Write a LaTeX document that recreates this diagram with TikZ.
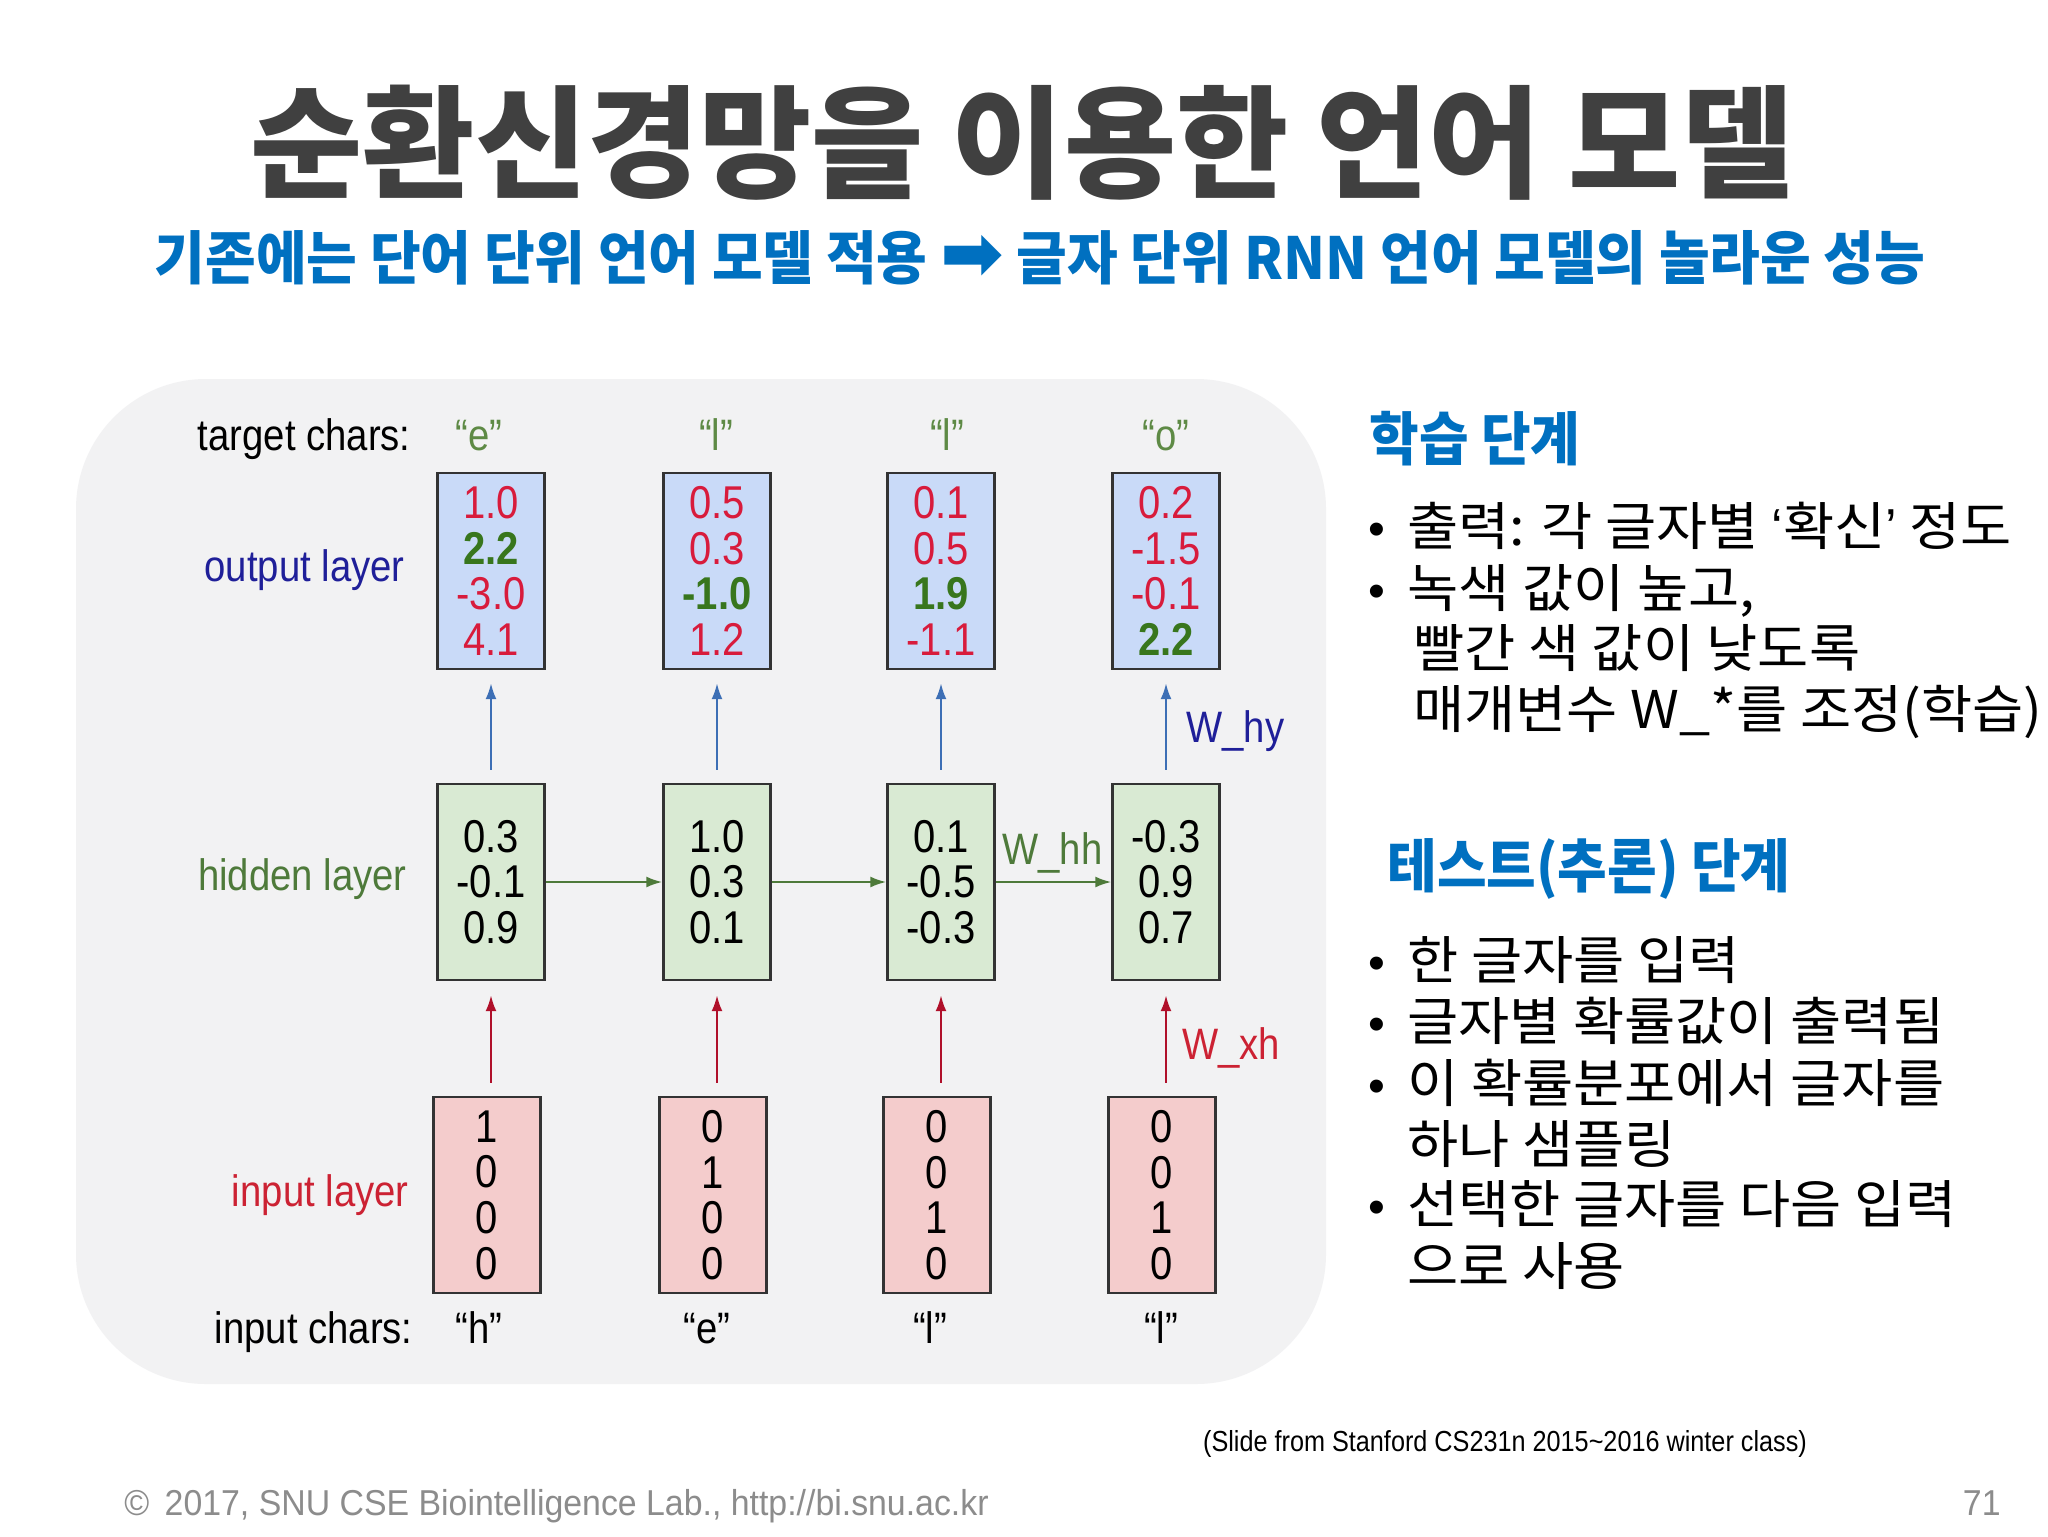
\documentclass[tikz,border=0pt]{standalone}
\usepackage{fontspec}
\usetikzlibrary{arrows.meta}
\newfontfamily\krfont[FakeStretch=1.07]{Noto Sans CJK KR}
\newfontfamily\krtitle{Noto Sans CJK KR}
\newfontfamily\krsub[FakeStretch=0.95]{Noto Sans CJK KR}
\newfontfamily\krhead[FakeStretch=0.93]{Noto Sans CJK KR}
\newfontfamily\diagfont[FakeStretch=0.87]{Liberation Sans}
\newfontfamily\footfont[FakeStretch=0.94]{Liberation Sans}
\newfontfamily\lsans{Liberation Sans}
\newfontfamily\dvfont{DejaVu Sans}
\definecolor{titlegray}{HTML}{404040}
\definecolor{subblue}{HTML}{0070C0}
\definecolor{panelgray}{HTML}{F2F2F3}
\definecolor{boxline}{HTML}{333333}
\definecolor{outfill}{HTML}{C9DAF8}
\definecolor{hidfill}{HTML}{D9EAD3}
\definecolor{infill}{HTML}{F4CCCC}
\definecolor{nred}{HTML}{D81B3C}
\definecolor{ngreen}{HTML}{38761D}
\definecolor{navy}{HTML}{1F1F99}
\definecolor{lgreen}{HTML}{4E7A3A}
\definecolor{lred}{HTML}{CC2233}
\definecolor{qgreen}{HTML}{5E8A45}
\definecolor{arrblue}{HTML}{3D6FB5}
\definecolor{arrred}{HTML}{B0102A}
\definecolor{footgray}{HTML}{8C8C8C}
\newcommand\rv[1]{\textcolor{nred}{#1}}
\newcommand\gv[1]{\textcolor{ngreen}{\bfseries #1}}
\begin{document}
\begin{tikzpicture}[x=0.5pt,y=-0.5pt,
  vbox/.style={draw=boxline, line width=1.2pt, minimum width=53.5pt, minimum height=98pt,
    inner sep=0pt, align=center, font=\diagfont\fontsize{23}{22.8}\selectfont},
  outbox/.style={vbox, fill=outfill},
  hidbox/.style={vbox, fill=hidfill},
  inbox/.style={vbox, fill=infill},
  lab/.style={font=\diagfont\fontsize{22}{26}\selectfont, inner sep=0pt},
  bluearrow/.style={draw=arrblue, line width=1.1pt, -{Latex[length=8pt,width=5.5pt]}, shorten <=6.5pt, shorten >=6.5pt},
  redarrow/.style={draw=arrred, line width=1.1pt, -{Latex[length=8pt,width=5.5pt]}, shorten <=6.5pt, shorten >=7pt},
  greenarrow/.style={draw=lgreen, line width=1.1pt, -{Latex[length=8pt,width=5.5pt]}},
  body/.style={font=\krfont\fontsize{26}{30}\selectfont, anchor=base west, inner sep=0pt},
  bul/.style={font=\lsans\fontsize{24}{28}\selectfont, anchor=base, inner sep=0pt},
  head/.style={font=\krhead\bfseries\fontsize{29}{34}\selectfont, text=subblue, anchor=base west, inner sep=0pt}
]
\useasboundingbox (0,0) rectangle (2048,1536);
\fill[white] (0,0) rectangle (2048,1536);
\fill[panelgray, rounded corners=65pt] (76,379) rectangle (1326,1384);

% title and subtitle
\node[font=\krtitle\bfseries\fontsize{61}{70}\selectfont, text=titlegray, inner sep=0pt] (title) at (1022,143) {순환신경망을 이용한 언어 모델};
\node[font=\krsub\bfseries\fontsize{29}{34}\selectfont, text=subblue, inner sep=0pt] (subtitle) at (1040,258)
  {기존에는 단어 단위 언어 모델 적용 {\dvfont\bfseries\fontsize{38}{34}\selectfont ➡} 글자 단위 RNN 언어 모델의 놀라운 성능};

% output layer
\node[outbox] (o1) at (491,571) {\rv{1.0}\\\gv{2.2}\\\rv{-3.0}\\\rv{4.1}};
\node[outbox] (o2) at (717,571) {\rv{0.5}\\\rv{0.3}\\\gv{-1.0}\\\rv{1.2}};
\node[outbox] (o3) at (941,571) {\rv{0.1}\\\rv{0.5}\\\gv{1.9}\\\rv{-1.1}};
\node[outbox] (o4) at (1166,571) {\rv{0.2}\\\rv{-1.5}\\\rv{-0.1}\\\gv{2.2}};
% hidden layer
\node[hidbox] (h1) at (491,882) {0.3\\-0.1\\0.9};
\node[hidbox] (h2) at (717,882) {1.0\\0.3\\0.1};
\node[hidbox] (h3) at (941,882) {0.1\\-0.5\\-0.3};
\node[hidbox] (h4) at (1166,882) {-0.3\\0.9\\0.7};
% input layer
\node[inbox] (i1) at (487,1195) {1\\0\\0\\0};
\node[inbox] (i2) at (713,1195) {0\\1\\0\\0};
\node[inbox] (i3) at (937,1195) {0\\0\\1\\0};
\node[inbox] (i4) at (1162,1195) {0\\0\\1\\0};

% arrows
\foreach \k in {1,2,3,4} {
  \draw[bluearrow] (h\k.north) -- (o\k.south);
  \draw[redarrow] (i\k.north -| h\k.south) -- (h\k.south);
}
\draw[greenarrow] (h1.east) -- (h2.west);
\draw[greenarrow] (h2.east) -- (h3.west);
\draw[greenarrow] (h3.east) -- (h4.west);

% labels
\node[lab, anchor=base east] (tc) at (411,450) {target chars:};
\node[lab, anchor=base, text=qgreen] (t1) at (479,450) {“e”};
\node[lab, anchor=base, text=qgreen] (t2) at (716,450) {“l”};
\node[lab, anchor=base, text=qgreen] (t3) at (947,450) {“l”};
\node[lab, anchor=base, text=qgreen] (t4) at (1166,450) {“o”};
\node[lab, anchor=base east, text=navy] (ol) at (405,581) {output layer};
\node[lab, anchor=base east, text=lgreen] (hl) at (407,890) {hidden layer};
\node[lab, anchor=base east, text=lred] (il) at (409,1206) {input layer};
\node[lab, anchor=base east] (ic) at (413,1343) {input chars:};
\node[lab, anchor=base] (c1) at (479,1343) {“h”};
\node[lab, anchor=base] (c2) at (707,1343) {“e”};
\node[lab, anchor=base] (c3) at (930,1343) {“l”};
\node[lab, anchor=base] (c4) at (1161,1343) {“l”};
\node[lab, anchor=base west, text=navy] (why) at (1186,742) {W\_hy};
\node[lab, anchor=base west, text=lgreen] (whh) at (1002,864) {W\_hh};
\node[lab, anchor=base west, text=lred] (wxh) at (1182,1059) {W\_xh};

% right panel: training
\node[head] (h-train) at (1369,460) {학습 단계};
\node[bul] (b1) at (1377,545) {•};
\node[body] (l1) at (1407,545) {출력: 각 글자별 {\lsans ‘}확신{\lsans ’} 정도};
\node[bul] (b2) at (1377,607) {•};
\node[body] (l2) at (1407,607) {녹색 값이 높고,};
\node[body] (l3) at (1413,667) {빨간 색 값이 낮도록};
\node[body] (l4) at (1413,728) {매개변수 W\_*를 조정(학습)};

% right panel: test
\node[head] (h-test) at (1387,887) {테스트(추론) 단계};
\node[bul] (b3) at (1377,979) {•};
\node[body] (m1) at (1407,979) {한 글자를 입력};
\node[bul] (b4) at (1377,1040) {•};
\node[body] (m2) at (1407,1040) {글자별 확률값이 출력됨};
\node[bul] (b5) at (1377,1102) {•};
\node[body] (m3) at (1407,1102) {이 확률분포에서 글자를};
\node[body] (m4) at (1407,1163) {하나 샘플링};
\node[bul] (b6) at (1377,1223) {•};
\node[body] (m5) at (1407,1223) {선택한 글자를 다음 입력};
\node[body] (m6) at (1407,1285) {으로 사용};

% source and footer
\node[font=\diagfont\fontsize{14.5}{17}\selectfont, anchor=base, inner sep=0pt] (src) at (1505,1451) {(Slide from Stanford CS231n 2015\textasciitilde 2016 winter class)};
\node[font=\footfont\fontsize{18}{21}\selectfont, text=footgray, anchor=base west, inner sep=0pt] (foot) at (124,1515) {©\, 2017, SNU CSE Biointelligence Lab., http://bi.snu.ac.kr};
\node[font=\footfont\fontsize{18}{21}\selectfont, text=footgray, anchor=base east, inner sep=0pt] (page) at (2001,1515) {71};
\end{tikzpicture}
\end{document}
